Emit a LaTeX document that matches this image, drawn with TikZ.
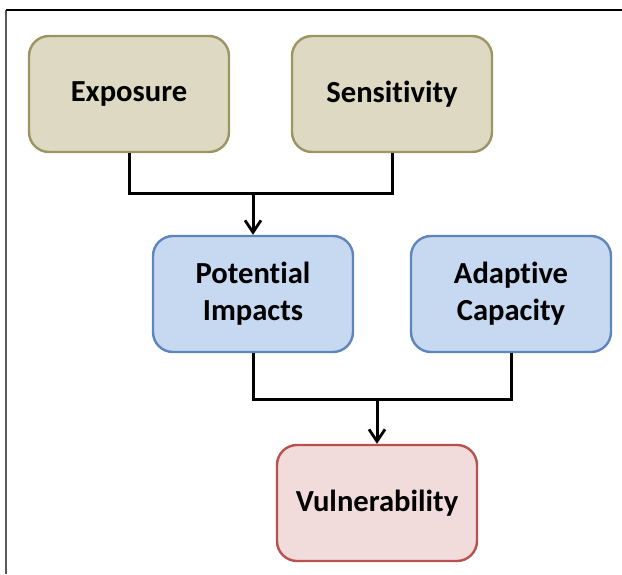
\documentclass[tikz,border=0pt]{standalone}
\usepackage{fontspec}
\setmainfont{Carlito}[Ligatures=NoCommon]
\usetikzlibrary{arrows.meta}
\definecolor{tanfill}{HTML}{DDD9C3}
\definecolor{tanline}{HTML}{9C9462}
\definecolor{bluefill}{HTML}{C6D9F1}
\definecolor{blueline}{HTML}{5F86BA}
\definecolor{pinkfill}{HTML}{F2DCDB}
\definecolor{pinkline}{HTML}{B9524F}
\begin{document}
\begin{tikzpicture}[x=0.5pt,y=-0.5pt,
    box/.style={draw,line width=1.2pt,rounded corners=10pt,minimum width=100pt,
        minimum height=58pt,align=center,font=\fontsize{15.3}{18.5}\selectfont\bfseries},
    factor/.style={box,fill=tanfill,draw=tanline},
    component/.style={box,fill=bluefill,draw=blueline},
    outcome/.style={box,fill=pinkfill,draw=pinkline},
    link/.style={line width=1.5pt},
    arrow/.style={link,-{Straight Barb[length=6pt,width=8pt,line width=1.4pt]}}]
    \useasboundingbox (0,0) rectangle (622,574);
    \draw[line width=1pt,gray!70!black] (6,574) -- (6,10);
    \draw[line width=1pt] (6,10) -- (622,10);
    \node[factor] (exposure) at (129,94) {Exposure};
    \node[factor] (sensitivity) at (392,94) {Sensitivity};
    \node[component] (impacts) at (253,294) {Potential\\Impacts};
    \node[component] (capacity) at (511,294) {Adaptive\\Capacity};
    \node[outcome] (vulnerability) at (377,503) {Vulnerability};
    \coordinate (topjoin) at (253,193);
    \coordinate (bottomjoin) at (377,399);
    \draw[link] (exposure.south) |- (topjoin) -| (sensitivity.south);
    \draw[arrow] (topjoin) -- (impacts.north);
    \draw[link] (impacts.south) |- (bottomjoin) -| (capacity.south);
    \draw[arrow] (bottomjoin) -- (vulnerability.north);
\end{tikzpicture}
\end{document}
